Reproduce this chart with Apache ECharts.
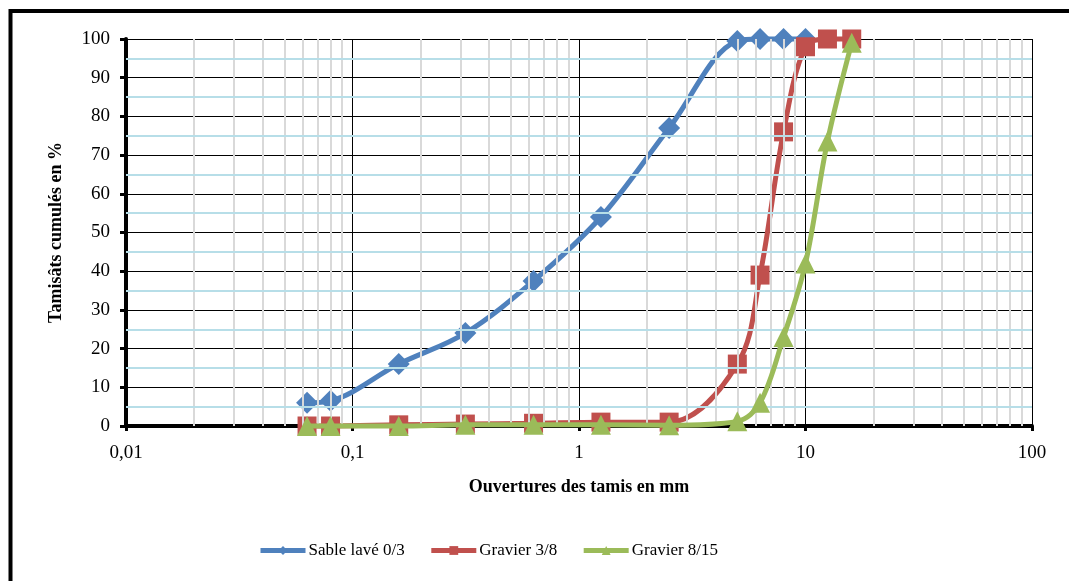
<!DOCTYPE html>
<html><head><meta charset="utf-8">
<script src="https://cdn.jsdelivr.net/npm/echarts@6/dist/echarts.min.js"></script>
<style>html,body{margin:0;padding:0;background:#fff}#c{width:1069px;height:581px}</style>
</head><body><div id="c"></div>
<script>
const sieves = [0.063, 0.08, 0.16, 0.315, 0.63, 1.25, 2.5, 5, 6.3, 8, 10, 12.5, 16];
const sable = [6, 6.5, 16, 24, 37.5, 54, 77, 99.5, 100, 100, 100];
const gravier38 = [0, 0, 0.3, 0.5, 0.7, 1, 1, 16, 39, 76, 98, 100, 100];
const gravier815 = [0, 0, 0, 0.3, 0.3, 0.3, 0.2, 1.2, 6, 23, 42, 73.5, 99];
const seriesNames = ['Sable lavé 0/3', 'Gravier 3/8', 'Gravier 8/15'];
const decades = [0.01, 0.1, 1, 10];
const minorMult = [2, 3, 4, 5, 6, 7, 8, 9];
const yMinor = [5, 15, 25, 35, 45, 55, 65, 75, 85, 95];
const xLabels = {'0.01': '0,01', '0.1': '0,1', '1': '1', '10': '10', '100': '100'};

const pairs = (vals) => vals.map((v, i) => [sieves[i], v]);
const minorLines = [];
decades.forEach(d => minorMult.forEach(m => minorLines.push({xAxis: +(d * m).toPrecision(3)})));
const yMinorLines = yMinor.map(v => ({yAxis: v}));

const font = 'Liberation Serif';
const chart = echarts.init(document.getElementById('c'), null, {renderer: 'canvas'});
chart.setOption({
  animation: false,
  backgroundColor: '#fff',
  textStyle: {fontFamily: font},
  graphic: [{type: 'rect', shape: {x: 10.5, y: 11, width: 1100, height: 620}, style: {fill: 'none', stroke: '#000', lineWidth: 4}, silent: true}],
  grid: {left: 126, top: 39, right: 37, bottom: 155},
  legend: {
    top: 537, left: 258, itemWidth: 45, itemHeight: 11, itemGap: 24, padding: [5, 0, 5, 0],
    lineStyle: {width: 5},
    textStyle: {fontFamily: font, fontSize: 17, color: '#000', padding: [0, 0, 0, -2]},
    data: seriesNames
  },
  xAxis: {
    type: 'log', logBase: 10, min: 0.01, max: 100,
    name: 'Ouvertures des tamis en mm', nameLocation: 'middle', nameGap: 52,
    nameTextStyle: {fontFamily: font, fontSize: 18, fontWeight: 'bold', color: '#000'},
    axisLine: {lineStyle: {color: '#000', width: 4}},
    axisTick: {show: true, length: 5, lineStyle: {color: '#000', width: 3}},
    axisLabel: {fontFamily: font, fontSize: 19, color: '#000', margin: 18,
      formatter: v => { const k = String(+v.toPrecision(3)); return xLabels[k] !== undefined ? xLabels[k] : k; }},
    splitLine: {show: true, lineStyle: {color: '#000', width: 1}}
  },
  yAxis: {
    type: 'value', min: 0, max: 100, interval: 10,
    name: 'Tamisâts cumulés en %', nameLocation: 'middle', nameGap: 61,
    nameTextStyle: {fontFamily: font, fontSize: 18, fontWeight: 'bold', color: '#000'},
    axisLine: {show: true, lineStyle: {color: '#000', width: 4}},
    axisTick: {show: true, length: 6, lineStyle: {color: '#000', width: 3}},
    axisLabel: {fontFamily: font, fontSize: 19, color: '#000', margin: 16},
    splitLine: {show: true, lineStyle: {color: '#000', width: 1}}
  },
  series: [
    {type: 'line', name: '_grid', data: [], z: -1, silent: true, legendHoverLink: false,
      markLine: {silent: true, symbol: ['none', 'none'], label: {show: false}, animation: false,
        lineStyle: {color: '#d9d9d9', width: 2, type: 'solid'}, data: minorLines}},
    {type: 'line', name: '_grid2', data: [], z: -1, silent: true, legendHoverLink: false,
      markLine: {silent: true, symbol: ['none', 'none'], label: {show: false}, animation: false,
        lineStyle: {color: '#b7dee8', width: 2, type: 'solid'}, data: yMinorLines}},
    {type: 'line', name: seriesNames[0], data: pairs(sable), smooth: 0.35, clip: false,
      symbol: 'diamond', symbolSize: 22, color: '#4f81bd', lineStyle: {width: 5}, z: 3},
    {type: 'line', name: seriesNames[1], data: pairs(gravier38), smooth: 0.35, clip: false,
      symbol: 'rect', symbolSize: 19, color: '#c0504d', lineStyle: {width: 5}, z: 4},
    {type: 'line', name: seriesNames[2], data: pairs(gravier815), smooth: 0.35, clip: false,
      symbol: 'triangle', symbolSize: 20, color: '#9bbb59', lineStyle: {width: 5}, z: 5}
  ]
});
</script></body></html>
